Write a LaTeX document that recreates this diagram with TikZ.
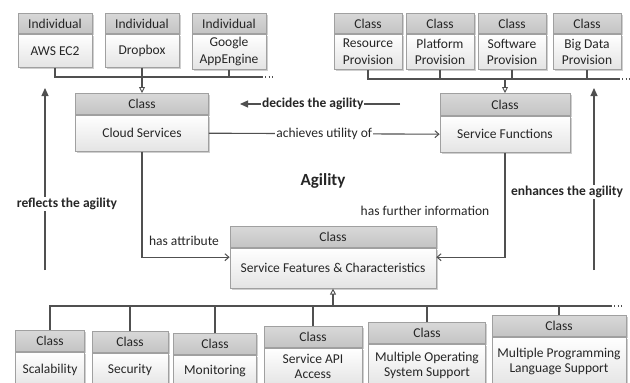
\documentclass[tikz,border=0pt]{standalone}
\usepackage{fontspec}
\setmainfont{Carlito}
\usetikzlibrary{arrows.meta,shadows}
\definecolor{bordc}{HTML}{A0A0A0}
\definecolor{linec}{HTML}{505050}
\definecolor{txtc}{HTML}{262626}
\definecolor{hdrtop}{HTML}{D8D8D8}
\definecolor{hdrbot}{HTML}{C4C4C4}
\definecolor{bodybot}{HTML}{E4E4E4}
\definecolor{shadc}{HTML}{CFCFCF}
\tikzset{
  boxfont/.style={font=\fontsize{13.5}{16.5}\selectfont},
  boxshadow/.style={drop shadow={shadow xshift=1.6pt, shadow yshift=-1.6pt, fill=shadc, opacity=1}},
  hd/.style={draw=bordc, line width=0.8pt, top color=hdrtop, bottom color=hdrbot, inner sep=0pt, anchor=north, boxfont, text=txtc, minimum height=20pt, boxshadow},
  bd/.style={draw=bordc, line width=0.8pt, top color=white, bottom color=bodybot, inner sep=0pt, anchor=north, align=center, boxfont, text=txtc, boxshadow},
  bdlow/.style={bd, font=\fontsize{13.5}{15}\selectfont},
  conn/.style={draw=linec, line width=1.1pt},
  gen/.style={-{Triangle[open, length=6pt, width=6pt, line width=0.9pt]}},
  assoc/.style={-{Straight Barb[length=4pt, width=7pt, line width=1pt]}},
  strong/.style={-{Triangle[length=8pt, width=7pt]}},
  lbl/.style={font=\fontsize{13.5}{16}\selectfont, text=txtc, fill=white, inner sep=1pt},
  blbl/.style={font=\fontsize{13.5}{16}\selectfont\bfseries, text=txtc, fill=white, inner sep=1pt},
  dotsline/.style={draw=linec, line width=1.1pt, dash pattern=on 1.1pt off 2.2pt},
}
\begin{document}
\begin{tikzpicture}[x=1pt, y=-1pt]
\useasboundingbox (0,0) rectangle (630,383);
\clip (0,0) rectangle (630,383);
\fill[white] (0,0) rectangle (630,383);

% ---- top-left individuals
\node[hd, minimum width=74pt] (awsH) at (55,13) {Individual};
\node[bd, minimum width=74pt, minimum height=33pt] (aws) at (awsH.south) {AWS EC2};
\node[hd, minimum width=74pt] (dropH) at (142,13) {Individual};
\node[bd, minimum width=74pt, minimum height=33pt] (drop) at (dropH.south) {Dropbox};
\node[hd, minimum width=74pt] (googH) at (229,13) {Individual};
\node[bd, minimum width=74pt, minimum height=35pt] (goog) at (googH.south) {Google\\AppEngine};

% ---- top-right classes
\node[hd, minimum width=68pt] (resH) at (368,13) {Class};
\node[bd, minimum width=68pt, minimum height=35pt] (res) at (resH.south) {Resource\\Provision};
\node[hd, minimum width=68pt] (platH) at (440,13) {Class};
\node[bd, minimum width=68pt, minimum height=35pt] (plat) at (platH.south) {Platform\\Provision};
\node[hd, minimum width=68pt] (softH) at (512,13) {Class};
\node[bd, minimum width=68pt, minimum height=35pt] (soft) at (softH.south) {Software\\Provision};
\node[hd, minimum width=68pt] (bigH) at (587,13) {Class};
\node[bd, minimum width=68pt, minimum height=35pt] (big) at (bigH.south) {Big Data\\Provision};

% ---- middle classes
\node[hd, minimum width=133pt, minimum height=21pt] (cloudH) at (142,93) {Class};
\node[bd, minimum width=133pt, minimum height=36pt] (cloud) at (cloudH.south) {Cloud Services};
\node[hd, minimum width=130pt, minimum height=22pt] (sfunH) at (505,93) {Class};
\node[bd, minimum width=130pt, minimum height=36pt] (sfun) at (sfunH.south) {Service Functions};
\node[hd, minimum width=206pt, minimum height=21pt] (featH) at (333,226) {Class};
\node[bd, minimum width=206pt, minimum height=40pt] (feat) at (featH.south) {Service Features \& Characteristics};

% ---- bottom classes
\node[hd, minimum width=69pt, minimum height=21pt] (scalH) at (50,330) {Class};
\node[bdlow, minimum width=69pt, minimum height=35pt] (scal) at (scalH.south) {Scalability};
\node[hd, minimum width=76pt, minimum height=21pt] (secH) at (130,331) {Class};
\node[bdlow, minimum width=76pt, minimum height=34pt] (sec) at (secH.south) {Security};
\node[hd, minimum width=83pt, minimum height=21pt] (monH) at (215,333) {Class};
\node[bdlow, minimum width=83pt, minimum height=32pt] (mon) at (monH.south) {Monitoring};
\node[hd, minimum width=98pt, minimum height=21pt] (apiH) at (313,326) {Class};
\node[bdlow, minimum width=98pt, minimum height=37pt] (api) at (apiH.south) {Service API\\Access};
\node[hd, minimum width=117pt, minimum height=21pt] (mosH) at (427,322) {Class};
\node[bdlow, minimum width=117pt, minimum height=42pt] (mos) at (mosH.south) {Multiple Operating\\System Support};
\node[hd, minimum width=134pt, minimum height=21pt] (mplH) at (559,315) {Class};
\node[bdlow, minimum width=134pt, minimum height=49pt] (mpl) at (mplH.south) {Multiple Programming\\Language Support};

% ---- top-left bus
\coordinate (tlEnd) at (262,77);
\draw[conn] (aws.south) |- (tlEnd);
\draw[conn] (drop.south) -- (drop.south |- tlEnd);
\draw[conn] (goog.south) -- (goog.south |- tlEnd);
\draw[dotsline] (tlEnd) -- ++(10,0);
\draw[conn, gen] (cloudH.north |- tlEnd) -- (cloudH.north);

% ---- top-right bus
\coordinate (trEnd) at (619,79);
\draw[conn] (res.south) |- (trEnd);
\draw[conn] (plat.south) -- (plat.south |- trEnd);
\draw[conn] (soft.south) -- (soft.south |- trEnd);
\draw[conn] (big.south) -- (big.south |- trEnd);
\draw[dotsline] (trEnd) -- ++(10,0);
\draw[conn, gen] (sfunH.north |- trEnd) -- (sfunH.north);

% ---- bottom bus
\coordinate (bEnd) at (611,306);
\draw[conn] (scalH.north) |- (bEnd);
\draw[conn] (secH.north) -- (secH.north |- bEnd);
\draw[conn] (monH.north) -- (monH.north |- bEnd);
\draw[conn] (apiH.north) -- (apiH.north |- bEnd);
\draw[conn] (mosH.north) -- (mosH.north |- bEnd);
\draw[conn] (mplH.north) -- (mplH.north |- bEnd);
\draw[dotsline] (bEnd) -- ++(11,0);
\draw[conn, gen] (feat.south |- bEnd) -- (feat.south);

% ---- associations
\draw[conn, assoc] (cloud.east) -- node[lbl] {achieves utility of} (sfun.west);
\draw[conn, assoc] (cloud.south) |- ([yshift=11pt]feat.west);
\draw[conn, assoc] (sfun.south) |- ([yshift=11pt]feat.east);

% ---- agility arrows
\coordinate (decA) at (400,104);
\coordinate (decB) at (240,104);
\draw[conn, strong] (decA) -- node[blbl, pos=0.545] {decides the agility} (decB);
\coordinate (refA) at (45,270);
\coordinate (refB) at (45,88);
\draw[conn, strong] (refA) -- (refB);
\node[blbl] (refL) at (67,204) {reflects the agility};
\coordinate (enhA) at (594,270);
\coordinate (enhB) at (594,88);
\draw[conn, strong] (enhA) -- (enhB);
\node[blbl] (enhL) at (567,192) {enhances the agility};

% ---- free texts
\node[font=\fontsize{17}{20}\selectfont\bfseries, text=txtc] (agil) at (323,181) {Agility};
\node[lbl, fill=none] (furth) at (425,211) {has further information};
\node[lbl, fill=none] (attr) at (184,241) {has attribute};
\end{tikzpicture}
\end{document}
